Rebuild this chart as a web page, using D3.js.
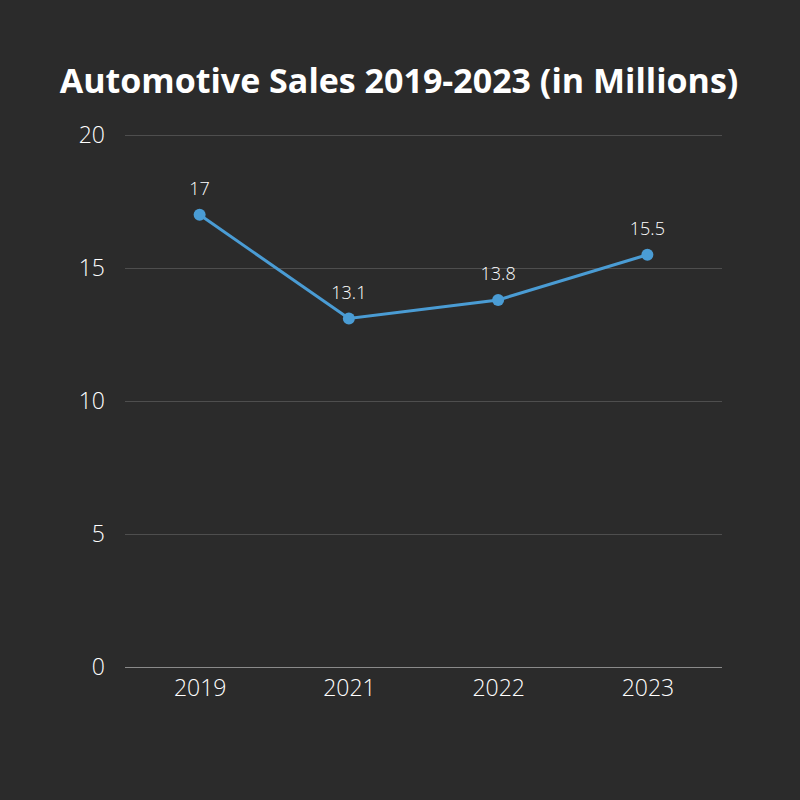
<!DOCTYPE html>
<html>
<head>
<meta charset="utf-8">
<script src="https://cdn.jsdelivr.net/npm/d3@7"></script>
<style>
  body { margin: 0; background: #2b2b2b; }
  svg { display: block; }
</style>
</head>
<body>
<svg width="800" height="800"></svg>
<script>
// data
var years = ["2019", "2021", "2022", "2023"];
var sales = [17, 13.1, 13.8, 15.5];
var yTicks = [0, 5, 10, 15, 20];

var W = 800, H = 800;
var margin = {top: 135, right: 78, bottom: 133, left: 125};
var FONT = "'Open Sans', 'Noto Sans', sans-serif";

var svg = d3.select("svg");
svg.append("rect").attr("width", W).attr("height", H).attr("fill", "#2b2b2b");

var x = d3.scalePoint().domain(years)
  .range([margin.left, W - margin.right]).padding(0.5);
var y = d3.scaleLinear().domain([0, 20]).range([H - margin.bottom, margin.top]);

// title
svg.append("text")
  .attr("x", W / 2 - 1).attr("y", 93)
  .attr("text-anchor", "middle")
  .attr("fill", "#ffffff")
  .style("font-family", FONT).style("font-weight", 700).style("font-size", "34px")
  .text("Automotive Sales 2019-2023 (in Millions)");

// gridlines + y labels
var yAxis = d3.axisLeft(y).tickValues(yTicks)
  .tickSize(-(W - margin.left - margin.right)).tickPadding(20);
var gy = svg.append("g").attr("transform", "translate(" + margin.left + ",0)").call(yAxis);
gy.select(".domain").remove();
gy.selectAll(".tick line").attr("stroke", function(d) { return d === 0 ? "#8a8a8a" : "#4e4e4e"; })
  .attr("stroke-width", 1);
gy.selectAll(".tick text").attr("fill", "#ffffff")
  .style("font-family", FONT).style("font-weight", 300).style("font-size", "23px");

// x labels
var xAxis = d3.axisBottom(x).tickSize(0).tickPadding(13);
var gx = svg.append("g").attr("transform", "translate(0," + (H - margin.bottom) + ")").call(xAxis);
gx.select(".domain").remove();
gx.selectAll(".tick text").attr("fill", "#ffffff")
  .style("font-family", FONT).style("font-weight", 300).style("font-size", "23px");

// line
var line = d3.line()
  .x(function(d, i) { return x(years[i]); })
  .y(function(d) { return y(d); });

svg.append("path").datum(sales)
  .attr("d", line)
  .attr("fill", "none")
  .attr("stroke", "#4a9cd4")
  .attr("stroke-width", 3);

svg.selectAll("circle.pt").data(sales).enter().append("circle")
  .attr("class", "pt")
  .attr("cx", function(d, i) { return x(years[i]); })
  .attr("cy", function(d) { return y(d); })
  .attr("r", 6)
  .attr("fill", "#4a9cd4");

svg.selectAll("text.lbl").data(sales).enter().append("text")
  .attr("class", "lbl")
  .attr("x", function(d, i) { return x(years[i]); })
  .attr("y", function(d) { return y(d) - 20; })
  .attr("text-anchor", "middle")
  .attr("fill", "#ffffff")
  .style("font-family", FONT).style("font-weight", 300).style("font-size", "18px")
  .text(function(d) { return d; });
</script>
</body>
</html>
